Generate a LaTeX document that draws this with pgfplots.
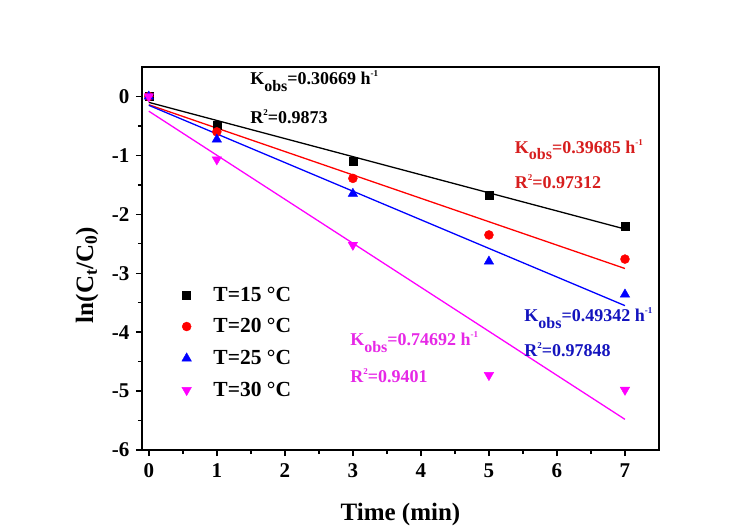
\documentclass[border=0pt]{standalone}
\usepackage{pgfplots}
\pgfplotsset{compat=1.18}
\usepackage{fontspec}
\setmainfont{Liberation Serif}
\definecolor{myred}{RGB}{255,0,0}
\definecolor{myblue}{RGB}{0,0,255}
\definecolor{mymag}{RGB}{255,0,255}
\definecolor{txtred}{RGB}{215,30,30}
\definecolor{txtblue}{RGB}{20,20,190}
\definecolor{txtmag}{RGB}{230,40,230}
\newcommand{\kobs}[1]{K\raisebox{-6.5pt}{\fontsize{16}{16}\selectfont obs}=#1 h\raisebox{8pt}{\fontsize{9}{9}\selectfont -1}}
\newcommand{\rsq}[1]{R\raisebox{8pt}{\fontsize{9}{9}\selectfont 2}=#1}
\begin{document}
\begin{tikzpicture}
\path[use as bounding box] (-142pt,-78pt) rectangle (608pt,450pt);
\begin{axis}[
  scale only axis, width=517pt, height=383pt,
  xmin=-0.1, xmax=7.5, ymin=-6, ymax=0.5,
  xtick={0,1,...,7}, ytick={-6,-5,...,0},
  minor x tick num=1, minor y tick num=1,
  tick align=outside, xtick pos=bottom, ytick pos=left,
  major tick length=6pt, minor tick length=4pt,
  axis line style={line width=1.6pt},
  every tick/.style={line width=1.4pt, black},
  /pgf/number format/assume math mode=true,
  ticklabel style={font=\bfseries\fontsize{21}{21}\selectfont},
  yticklabel style={xshift=-3pt},
  xticklabel style={yshift=-4pt},
  xlabel={\bfseries Time (min)},
  ylabel={\bfseries ln(C\textsubscript{t}/C\textsubscript{0})},
  label style={font=\bfseries\fontsize{25}{25}\selectfont},
  xlabel style={at={(axis description cs:0.5,-0.168)}, anchor=center},
  ylabel style={at={(axis description cs:-0.106,0.457)}, anchor=center},
  legend style={draw=none, fill=none, at={(axis description cs:0.071,0.437)}, anchor=north west,
    font=\bfseries\fontsize{21.5}{21.5}\selectfont, row sep=12pt,
    legend cell align=left,
    /tikz/every odd column/.append style={column sep=20pt}},
  legend image code/.code={\draw[#1] plot coordinates {(0.3cm,0cm)};},
]
\addplot[only marks, mark=square*, mark size=4pt, black] coordinates {(0,0) (1,-0.49) (3,-1.1) (5,-1.67) (7,-2.21)};
\addlegendentry{T=15 °C}
\addplot[only marks, mark=*, mark size=4.5pt, myred] coordinates {(0,0) (1,-0.6) (3,-1.39) (5,-2.35) (7,-2.76)};
\addlegendentry{T=20 °C}
\addplot[only marks, mark=triangle*, mark size=5.5pt, myblue] coordinates {(0,0) (1,-0.73) (3,-1.65) (5,-2.8) (7,-3.36)};
\addlegendentry{T=25 °C}
\addplot[only marks, mark=triangle*, mark options={rotate=180}, mark size=5.5pt, mymag] coordinates {(0,0) (1,-1.07) (3,-2.52) (5,-4.73) (7,-4.98)};
\addlegendentry{T=30 °C}
\addplot[black, line width=1.3pt, forget plot] coordinates {(0,-0.1) (7,-2.25)};
\addplot[myred, line width=1.3pt, forget plot] coordinates {(0,-0.14) (7,-2.92)};
\addplot[myblue, line width=1.3pt, forget plot] coordinates {(0,-0.15) (7,-3.55)};
\addplot[mymag, line width=1.3pt, forget plot] coordinates {(0,-0.25) (7,-5.48)};
\node[anchor=west, font=\bfseries\fontsize{18}{18}\selectfont, black] at (axis cs:1.44,0.26) {\kobs{0.30669}};
\node[anchor=west, font=\bfseries\fontsize{18}{18}\selectfont, black] at (axis cs:1.44,-0.34) {\rsq{0.9873}};
\node[anchor=west, font=\bfseries\fontsize{18}{18}\selectfont, txtred] at (axis cs:5.33,-0.9) {\kobs{0.39685}};
\node[anchor=west, font=\bfseries\fontsize{18}{18}\selectfont, txtred] at (axis cs:5.33,-1.45) {\rsq{0.97312}};
\node[anchor=west, font=\bfseries\fontsize{18}{18}\selectfont, txtblue] at (axis cs:5.47,-3.76) {\kobs{0.49342}};
\node[anchor=west, font=\bfseries\fontsize{18}{18}\selectfont, txtblue] at (axis cs:5.47,-4.3) {\rsq{0.97848}};
\node[anchor=west, font=\bfseries\fontsize{18}{18}\selectfont, txtmag] at (axis cs:2.91,-4.17) {\kobs{0.74692}};
\node[anchor=west, font=\bfseries\fontsize{18}{18}\selectfont, txtmag] at (axis cs:2.91,-4.73) {\rsq{0.9401}};
\end{axis}
\end{tikzpicture}
\end{document}
